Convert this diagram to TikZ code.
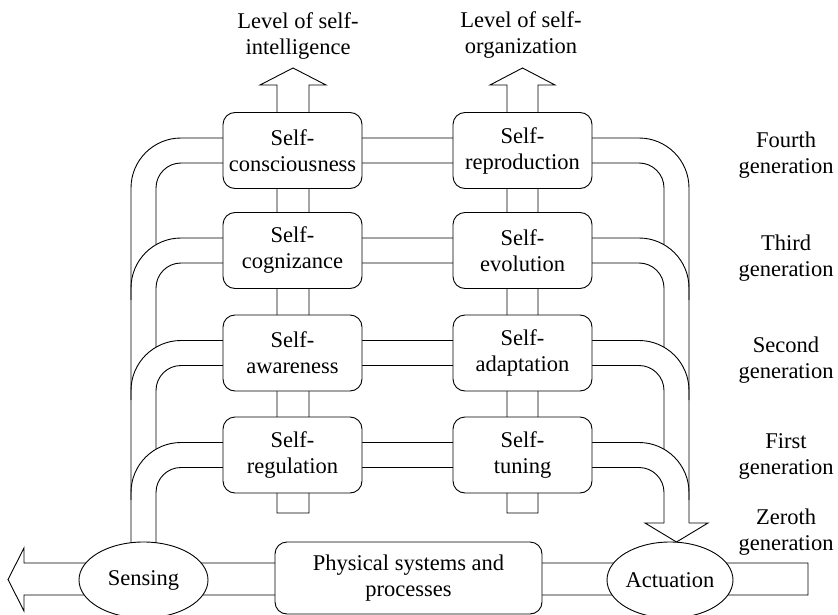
\documentclass[tikz,border=0pt]{standalone}
\usepackage{fontspec}
\setmainfont{Liberation Serif}
\usetikzlibrary{shapes.geometric}
\begin{document}
\begin{tikzpicture}[x=1pt, y=-1pt, line width=0.9pt,
  every node/.style={font=\fontsize{22.5pt}{26pt}\selectfont, align=center, inner sep=0pt},
  selfbox/.style={draw, fill=white, rounded corners=12pt, minimum width=139pt, minimum height=76pt},
  oval/.style={draw, fill=white, ellipse, minimum width=129pt, minimum height=76pt},
  outerband/.style={rounded corners=50pt},
  innerband/.style={rounded corners=25pt},
  pipe/.style={draw, fill=white, line join=miter}]
\useasboundingbox (0,0) rectangle (838,615);

% bottom pipe with the arrow leaving to the left
\draw[pipe] (24,548) -- (8,579.5) -- (24,611) -- (24,595) -- (808,595) -- (808,563) -- (24,563) -- cycle;

% left and right trunks with the four generation bands
\draw[outerband] (131,560) |- (400,138) -| (689,523);
\draw[innerband] (156,244.7) |- (400,163) -| (664,244.7);
\draw[outerband] (131,300) |- (400,238) -| (689,300);
\draw[innerband] (156,347.2) |- (400,263) -| (664,347.2);
\draw[outerband] (131,400) |- (400,340.5) -| (689,400);
\draw[innerband] (156,449.2) |- (400,365.5) -| (664,449.2);
\draw[outerband] (131,500) |- (400,442.5) -| (689,500);
\draw[innerband] (156,560) |- (400,467.5) -| (664,523);
% arrow head down to actuation
\draw[line join=miter] (664,523) -- (645,523) -- (676.5,542) -- (708,523) -- (689,523);

% vertical columns with arrows at the top
\draw[pipe] (260,85) -- (293,68) -- (326,85) -- (309,85) -- (309,513) -- (277,513) -- (277,85) -- cycle;
\draw[pipe] (490,85) -- (522.5,68) -- (555,85) -- (538,85) -- (538,513) -- (507,513) -- (507,85) -- cycle;

% self-intelligence column
\node[selfbox] (sc) at (292.5,150.5) {Self-\\consciousness};
\node[selfbox] (sg) at (292.5,250.5) {Self-\\cognizance};
\node[selfbox] (sa) at (292.5,353) {Self-\\awareness};
\node[selfbox] (sr) at (292.5,455) {Self-\\regulation};
% self-organization column
\node[selfbox] (rp) at (522.5,150.5) {Self-\\reproduction};
\node[selfbox] (ev) at (522.5,250.5) {Self-\\evolution};
\node[selfbox] (ad) at (522.5,353) {Self-\\adaptation};
\node[selfbox] (tu) at (522.5,455) {Self-\\tuning};

% zeroth generation
\node[oval] (sense) at (143.5,580) {Sensing};
\node[oval, minimum width=126pt] (act) at (670,580) {Actuation};
\node[draw, fill=white, rounded corners=12pt, minimum width=267pt, minimum height=72pt] (phys) at (408.5,578) {Physical systems and\\processes};

% column titles
\node (lvl1) at (298,36) {Level of self-\\intelligence};
\node (lvl2) at (521,35) {Level of self-\\organization};

% generation labels
\node (g4) at (786,155) {Fourth\\generation};
\node (g3) at (786,258) {Third\\generation};
\node (g2) at (786,360) {Second\\generation};
\node (g1) at (786,456) {First\\generation};
\node (g0) at (786,532) {Zeroth\\generation};
\end{tikzpicture}
\end{document}
